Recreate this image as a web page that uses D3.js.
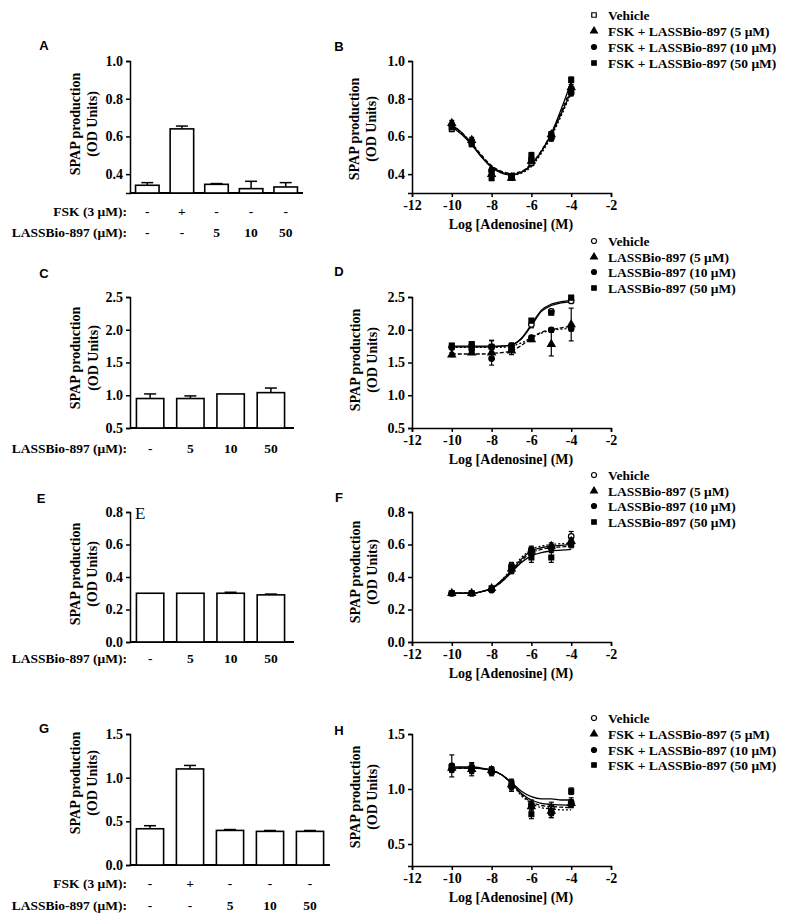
<!DOCTYPE html>
<html><head><meta charset="utf-8">
<script src="https://cdn.jsdelivr.net/npm/d3@7/dist/d3.min.js"></script>
<style>body{margin:0;background:#fff}</style></head>
<body>
<svg id="c" width="800" height="923"></svg>
<script>
// ---------------- DATA ----------------
// Bar panels
const barsA = [0.341, 0.640, 0.346, 0.323, 0.332];
const errA  = [0.014, 0.015, 0.004, 0.039, 0.023];
const fskA  = ["-", "+", "-", "-", "-"];
const lassA = ["-", "-", "5", "10", "50"];

const barsC = [0.95, 0.95, 1.02, 1.04];
const errC  = [0.07, 0.04, 0.0, 0.07];
const lassC = ["-", "5", "10", "50"];

const barsE = [0.30, 0.30, 0.30, 0.29];
const errE  = [0.0, 0.0, 0.006, 0.005];
const lassE = ["-", "5", "10", "50"];

const barsG = [0.415, 1.10, 0.396, 0.385, 0.385];
const errG  = [0.035, 0.04, 0.01, 0.01, 0.01];
const fskG  = ["-", "+", "-", "-", "-"];
const lassG = ["-", "-", "5", "10", "50"];

// Concentration-response panels
const logAdo = [-10, -9, -8, -7, -6, -5, -4];
const fitX   = [-10, -9.5, -9, -8.5, -8, -7.5, -7, -6.5, -6, -5.5, -5, -4.5, -4];

const legendB = ["Vehicle", "FSK + LASSBio-897 (5 \u03BCM)", "FSK + LASSBio-897 (10 \u03BCM)", "FSK + LASSBio-897 (50 \u03BCM)"];
const legendD = ["Vehicle", "LASSBio-897 (5 \u03BCM)", "LASSBio-897 (10 \u03BCM)", "LASSBio-897 (50 \u03BCM)"];

const ptsB = [
  [0.64, 0.57, 0.41, 0.39, 0.46, 0.60, 0.85],
  [0.67, 0.58, 0.40, 0.38, 0.47, 0.61, 0.86],
  [0.66, 0.57, 0.42, 0.39, 0.48, 0.59, 0.83],
  [0.65, 0.56, 0.38, 0.38, 0.50, 0.61, 0.90]];
const fitB = [
  [0.650, 0.610, 0.555, 0.490, 0.440, 0.410, 0.400, 0.410, 0.450, 0.520, 0.610, 0.720, 0.840],
  [0.660, 0.620, 0.565, 0.500, 0.445, 0.415, 0.405, 0.415, 0.455, 0.525, 0.615, 0.730, 0.860],
  [0.655, 0.615, 0.560, 0.495, 0.440, 0.410, 0.395, 0.405, 0.440, 0.510, 0.600, 0.710, 0.830],
  [0.660, 0.620, 0.560, 0.490, 0.435, 0.405, 0.395, 0.410, 0.450, 0.520, 0.615, 0.745, 0.890]];
const errB = [
  [0.015, 0.015, 0.015, 0.01, 0.015, 0.015, 0.015],
  [0.015, 0.015, 0.015, 0.01, 0.015, 0.015, 0.015],
  [0.015, 0.015, 0.015, 0.01, 0.015, 0.015, 0.015],
  [0.015, 0.015, 0.015, 0.01, 0.015, 0.015, 0.015]];

const ptsD = [
  [1.74, 1.76, 1.74, 1.75, 2.08, 2.28, 2.44],
  [1.62, 1.65, 1.65, 1.68, 1.85, 1.78, 2.08],
  [1.73, 1.70, 1.56, 1.70, 1.88, 2.00, 2.02],
  [1.76, 1.78, 1.74, 1.75, 2.14, 2.26, 2.49]];
const fitD = [
  [1.74, 1.74, 1.74, 1.74, 1.74, 1.75, 1.77, 1.86, 2.06, 2.28, 2.37, 2.41, 2.43],
  [1.63, 1.63, 1.63, 1.63, 1.64, 1.65, 1.68, 1.76, 1.88, 1.96, 2.00, 2.03, 2.05],
  [1.73, 1.73, 1.73, 1.73, 1.73, 1.73, 1.75, 1.80, 1.88, 1.95, 1.99, 2.01, 2.02],
  [1.75, 1.75, 1.75, 1.75, 1.75, 1.75, 1.77, 1.87, 2.08, 2.30, 2.39, 2.43, 2.45]];
const errD = [
  [0.04, 0.05, 0.10, 0.05, 0.05, 0.03, 0.03],
  [0.03, 0.02, 0.02, 0.06, 0.03, 0.18, 0.25],
  [0.03, 0.03, 0.10, 0.04, 0.03, 0.03, 0.04],
  [0.03, 0.03, 0.09, 0.03, 0.03, 0.03, 0.03]];

const ptsF = [
  [0.30, 0.30, 0.32, 0.47, 0.57, 0.58, 0.65],
  [0.30, 0.30, 0.33, 0.45, 0.56, 0.59, 0.62],
  [0.30, 0.30, 0.32, 0.46, 0.56, 0.58, 0.61],
  [0.30, 0.30, 0.33, 0.44, 0.52, 0.52, 0.60]];
const fitF = [
  [0.30, 0.30, 0.30, 0.31, 0.33, 0.38, 0.44, 0.51, 0.56, 0.58, 0.590, 0.595, 0.60],
  [0.30, 0.30, 0.30, 0.31, 0.33, 0.37, 0.43, 0.50, 0.55, 0.57, 0.580, 0.585, 0.59],
  [0.30, 0.30, 0.30, 0.31, 0.33, 0.38, 0.45, 0.52, 0.57, 0.59, 0.600, 0.605, 0.61],
  [0.30, 0.30, 0.30, 0.31, 0.33, 0.37, 0.43, 0.49, 0.53, 0.55, 0.560, 0.565, 0.57]];
const errF = [
  [0.01, 0.01, 0.01, 0.02, 0.02, 0.02, 0.03],
  [0.01, 0.01, 0.01, 0.02, 0.02, 0.02, 0.02],
  [0.01, 0.01, 0.01, 0.02, 0.02, 0.02, 0.02],
  [0.01, 0.01, 0.01, 0.02, 0.03, 0.03, 0.02]];

const ptsH = [
  [1.21, 1.19, 1.16, 1.03, 0.86, 0.83, 0.88],
  [1.19, 1.18, 1.17, 1.04, 0.84, 0.80, 0.87],
  [1.18, 1.17, 1.15, 1.02, 0.85, 0.78, 0.86],
  [1.20, 1.19, 1.17, 1.05, 0.77, 0.80, 0.98]];
const fitH = [
  [1.19, 1.19, 1.19, 1.185, 1.17, 1.13, 1.05, 0.96, 0.90, 0.87, 0.86, 0.855, 0.85],
  [1.19, 1.19, 1.19, 1.185, 1.17, 1.13, 1.05, 0.95, 0.88, 0.85, 0.84, 0.835, 0.83],
  [1.19, 1.19, 1.19, 1.185, 1.17, 1.13, 1.05, 0.94, 0.87, 0.83, 0.82, 0.810, 0.81],
  [1.20, 1.20, 1.20, 1.190, 1.17, 1.13, 1.06, 0.98, 0.93, 0.91, 0.91, 0.900, 0.90]];
const errH = [
  [0.10, 0.04, 0.03, 0.05, 0.04, 0.05, 0.04],
  [0.03, 0.06, 0.03, 0.04, 0.04, 0.04, 0.03],
  [0.03, 0.03, 0.03, 0.04, 0.03, 0.04, 0.03],
  [0.03, 0.03, 0.03, 0.04, 0.04, 0.06, 0.03]];

const xTicks = [-12, -10, -8, -6, -4, -2];

// ---------------- DRAWING ----------------
const svg = d3.select("#c");
const SERIF = "'Liberation Serif','Times New Roman',serif";
const SANS = "'Liberation Sans',Arial,sans-serif";

function letter(t, x, y) {
  svg.append("text").attr("x", x).attr("y", y).attr("dy", "0.35em")
    .attr("text-anchor", "middle").attr("font-family", SANS)
    .attr("font-weight", "bold").attr("font-size", 13).text(t);
}

function yTitle(x1, x2, ymid) {
  [["SPAP production", x1], ["(OD Units)", x2]].forEach(([t, x]) => {
    svg.append("text").attr("transform", `translate(${x},${ymid}) rotate(-90)`)
      .attr("text-anchor", "middle").attr("dy", "0.35em")
      .attr("font-family", SERIF).attr("font-weight", "bold")
      .attr("font-size", 14).text(t);
  });
}

function styleAxis(g) {
  g.selectAll("path,line").attr("stroke", "#000").attr("stroke-width", 1.5);
  g.selectAll("text").attr("font-family", SERIF).attr("font-weight", "bold")
    .attr("font-size", 14).attr("fill", "#000");
}

function barPanel(o) {
  const y = d3.scaleLinear().domain(o.yDomain).range(o.yRange);
  const x = d3.scaleBand().domain(d3.range(o.values.length))
    .range(o.xRange).paddingInner(0.32).paddingOuter(0.16);
  const ga = svg.append("g").attr("transform", `translate(${o.xRange[0]},0)`)
    .call(d3.axisLeft(y).tickValues(o.yTicks).tickSizeOuter(0).tickSize(4)
      .tickPadding(3).tickFormat(d3.format(".1f")));
  styleAxis(ga);
  svg.append("line").attr("x1", o.xRange[0]).attr("x2", o.axisEnd)
    .attr("y1", y(o.yDomain[0])).attr("y2", y(o.yDomain[0]))
    .attr("stroke", "#000").attr("stroke-width", 1.8);
  const g = svg.append("g");
  o.values.forEach((v, i) => {
    const cx = x(i) + x.bandwidth() / 2;
    const e = o.errs[i];
    if (e > 0) {
      g.append("line").attr("x1", cx).attr("x2", cx).attr("y1", y(v)).attr("y2", y(v + e))
        .attr("stroke", "#000").attr("stroke-width", 1.5);
      g.append("line").attr("x1", cx - 6).attr("x2", cx + 6).attr("y1", y(v + e)).attr("y2", y(v + e))
        .attr("stroke", "#000").attr("stroke-width", 1.5);
    }
    g.append("rect").attr("x", x(i)).attr("width", x.bandwidth())
      .attr("y", y(v)).attr("height", y(o.yDomain[0]) - y(v))
      .attr("fill", "#fff").attr("stroke", "#000").attr("stroke-width", 1.6);
  });
  o.rows.forEach(r => {
    svg.append("text").attr("x", 127).attr("y", r.y).attr("dy", "0.35em")
      .attr("text-anchor", "end").attr("font-family", SERIF).attr("font-weight", "bold")
      .attr("font-size", 13.5).text(r.label);
    r.items.forEach((t, i) => {
      svg.append("text").attr("x", x(i) + x.bandwidth() / 2).attr("y", r.y).attr("dy", "0.35em")
        .attr("text-anchor", "middle").attr("font-family", SERIF).attr("font-weight", "bold")
        .attr("font-size", 13.5).text(t);
    });
  });
}

const symTypes = [d3.symbolSquare, d3.symbolTriangle, d3.symbolCircle, d3.symbolSquare];
const dashes = [null, "4,2", "2,2", null];

function marker(g, k, openFirst, cx, cy, size) {
  const isOpen = k === 0;
  const type = k === 0 ? (openFirst ? d3.symbolSquare : d3.symbolCircle) : symTypes[k];
  g.append("path").attr("d", d3.symbol().type(type).size(size)())
    .attr("transform", `translate(${cx},${cy})`)
    .attr("fill", isOpen ? "#fff" : "#000").attr("stroke", "#000").attr("stroke-width", 1.2);
}

function linePanel(o) {
  const x = d3.scaleLinear().domain([-12, -2]).range([412, 611]);
  const y = d3.scaleLinear().domain(o.yDomain).range(o.yRange);
  const gy = svg.append("g").attr("transform", "translate(412,0)")
    .call(d3.axisLeft(y).tickValues(o.yTicks).tickSizeOuter(0).tickSize(4)
      .tickPadding(3).tickFormat(d3.format(".1f")));
  styleAxis(gy);
  const gx = svg.append("g").attr("transform", `translate(0,${o.yRange[0]})`)
    .call(d3.axisBottom(x).tickValues(xTicks).tickSizeOuter(0).tickSize(4)
      .tickPadding(3).tickFormat(d => d));
  styleAxis(gx);
  gx.selectAll("text").text(d => "-" + Math.abs(d));
  svg.append("text").attr("x", 511).attr("y", o.yRange[0] + 31).attr("dy", "0.35em")
    .attr("text-anchor", "middle").attr("font-family", SERIF).attr("font-weight", "bold")
    .attr("font-size", 14).text("Log [Adenosine] (M)");

  const line = d3.line().x((d, i) => x(fitX[i])).y(d => y(d)).curve(d3.curveMonotoneX);
  const g = svg.append("g");
  o.fits.forEach((f, k) => {
    g.append("path").attr("d", line(f)).attr("fill", "none").attr("stroke", "#000")
      .attr("stroke-width", 1.3).attr("stroke-dasharray", dashes[k]);
  });
  o.pts.forEach((p, k) => {
    p.forEach((v, i) => {
      const e = o.errs[k][i];
      const cx = x(logAdo[i]);
      g.append("line").attr("x1", cx).attr("x2", cx).attr("y1", y(v - e)).attr("y2", y(v + e))
        .attr("stroke", "#000").attr("stroke-width", 1.2);
      [v - e, v + e].forEach(ev => g.append("line").attr("x1", cx - 2.5).attr("x2", cx + 2.5)
        .attr("y1", y(ev)).attr("y2", y(ev)).attr("stroke", "#000").attr("stroke-width", 1.2));
      marker(g, k, o.openSquare, cx, y(v), 24);
    });
  });
  o.legend.forEach((t, k) => {
    const ly = o.legY[k];
    marker(svg, k, o.openSquare, 594, ly, 20);
    svg.append("text").attr("x", 608).attr("y", ly).attr("dy", "0.35em")
      .attr("font-family", SERIF).attr("font-weight", "bold").attr("font-size", 13.5).text(t);
  });
}

// ---- Panel A ----
letter("A", 44, 45);
yTitle(75, 92, 124);
barPanel({ yDomain: [0.3, 1.0], yRange: [193, 61], yTicks: [0.4, 0.6, 0.8, 1.0],
  xRange: [130, 303], axisEnd: 303, values: barsA, errs: errA,
  rows: [{ label: "FSK (3 \u03BCM):", y: 211, items: fskA },
         { label: "LASSBio-897 (\u03BCM):", y: 232, items: lassA }] });

// ---- Panel B ----
letter("B", 339, 46);
yTitle(354, 371, 129);
linePanel({ yDomain: [0.3, 1.0], yRange: [193, 61], yTicks: [0.4, 0.6, 0.8, 1.0],
  pts: ptsB, fits: fitB, errs: errB, legend: legendB, openSquare: true, legY: [15, 31, 47, 63] });

// ---- Panel C ----
letter("C", 44, 273);
yTitle(75, 93, 358);
barPanel({ yDomain: [0.5, 2.5], yRange: [428, 297], yTicks: [0.5, 1.0, 1.5, 2.0, 2.5],
  xRange: [130, 291], axisEnd: 294, values: barsC, errs: errC,
  rows: [{ label: "LASSBio-897 (\u03BCM):", y: 448, items: lassC }] });

// ---- Panel D ----
letter("D", 339, 271);
yTitle(355, 372, 360);
linePanel({ yDomain: [0.5, 2.5], yRange: [428, 297], yTicks: [0.5, 1.0, 1.5, 2.0, 2.5],
  pts: ptsD, fits: fitD, errs: errD, legend: legendD, openSquare: false, legY: [241, 257, 272, 288] });

// ---- Panel E ----
letter("E", 41, 498);
yTitle(75, 92, 574);
barPanel({ yDomain: [0, 0.8], yRange: [642, 512], yTicks: [0, 0.2, 0.4, 0.6, 0.8],
  xRange: [130, 291], axisEnd: 294, values: barsE, errs: errE,
  rows: [{ label: "LASSBio-897 (\u03BCM):", y: 658, items: lassE }] });
svg.append("text").attr("x", 135).attr("y", 519).attr("font-family", SERIF)
  .attr("font-size", 17).text("E");

// ---- Panel F ----
letter("F", 339, 497);
yTitle(355, 372, 572);
linePanel({ yDomain: [0, 0.8], yRange: [642, 512], yTicks: [0, 0.2, 0.4, 0.6, 0.8],
  pts: ptsF, fits: fitF, errs: errF, legend: legendD, openSquare: false, legY: [475, 491, 506, 522] });

// ---- Panel G ----
letter("G", 44, 728);
yTitle(75, 92, 783);
barPanel({ yDomain: [0, 1.5], yRange: [865, 734], yTicks: [0, 0.5, 1.0, 1.5],
  xRange: [130, 330], axisEnd: 330, values: barsG, errs: errG,
  rows: [{ label: "FSK (3 \u03BCM):", y: 883, items: fskG },
         { label: "LASSBio-897 (\u03BCM):", y: 905, items: lassG }] });

// ---- Panel H ----
letter("H", 339, 730);
yTitle(355, 372, 797);
linePanel({ yDomain: [0.3, 1.5], yRange: [866, 734], yTicks: [0.5, 1.0, 1.5],
  pts: ptsH, fits: fitH, errs: errH, legend: legendB, openSquare: false, legY: [718, 734, 750, 765] });
</script>
</body></html>
